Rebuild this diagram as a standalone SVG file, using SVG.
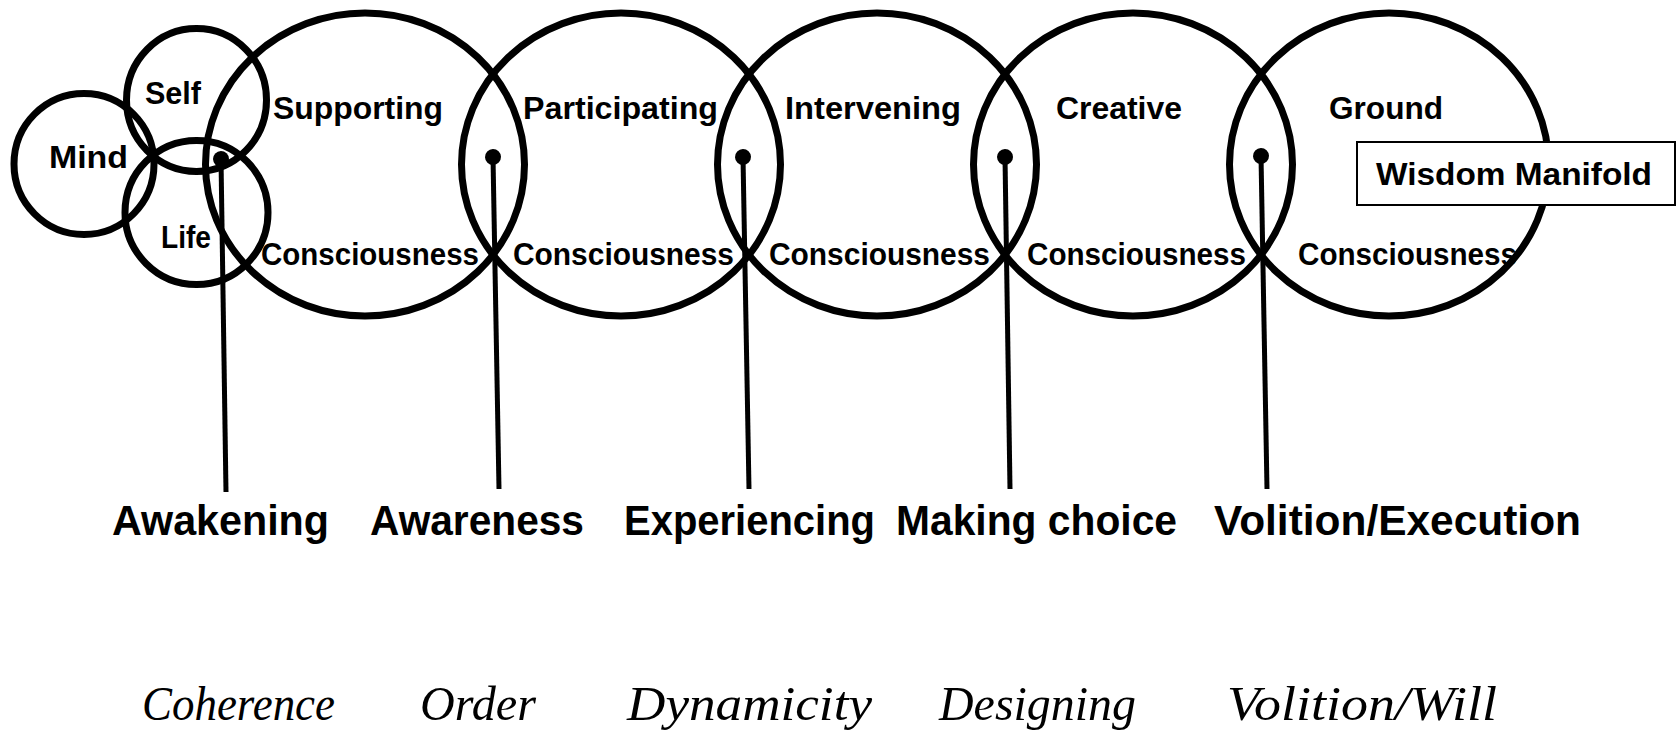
<svg xmlns="http://www.w3.org/2000/svg" width="1677" height="742" viewBox="0 0 1677 742">
  <style>
    .ring { fill: none; stroke: #000; stroke-width: 7; }
    .lbl { font-family: "Liberation Sans", Arial, sans-serif; font-weight: bold; font-size: 31px; fill: #000; }
    .big { font-family: "Liberation Sans", Arial, sans-serif; font-weight: bold; font-size: 42px; fill: #000; }
    .it { font-family: "Liberation Serif", "Times New Roman", serif; font-style: italic; font-size: 49px; fill: #000; }
    .conn { stroke: #000; stroke-width: 5; fill: none; marker-start: url(#dot); }
    .box { fill: #fff; stroke: #000; stroke-width: 2; }
  </style>
  <defs>
    <marker id="dot" viewBox="0 0 18 18" refX="9" refY="9" markerWidth="18" markerHeight="18" markerUnits="userSpaceOnUse" orient="auto">
      <circle cx="9" cy="9" r="8" fill="#000"/>
    </marker>
  </defs>
  <rect width="1677" height="742" fill="#fff"/>

  <!-- labels inside circles -->
  <g id="labels-top">
    <text class="lbl" x="145" y="104" textLength="56" lengthAdjust="spacingAndGlyphs">Self</text>
    <text class="lbl" x="49" y="168" textLength="79" lengthAdjust="spacingAndGlyphs">Mind</text>
    <text class="lbl" x="161" y="248" textLength="50" lengthAdjust="spacingAndGlyphs">Life</text>
    <text class="lbl" x="273" y="119" textLength="170" lengthAdjust="spacingAndGlyphs">Supporting</text>
    <text class="lbl" x="261" y="265" textLength="218" lengthAdjust="spacingAndGlyphs">Consciousness</text>
    <text class="lbl" x="523" y="119" textLength="195" lengthAdjust="spacingAndGlyphs">Participating</text>
    <text class="lbl" x="513" y="265" textLength="221" lengthAdjust="spacingAndGlyphs">Consciousness</text>
    <text class="lbl" x="785" y="119" textLength="176" lengthAdjust="spacingAndGlyphs">Intervening</text>
    <text class="lbl" x="769" y="265" textLength="221" lengthAdjust="spacingAndGlyphs">Consciousness</text>
    <text class="lbl" x="1056" y="119" textLength="126" lengthAdjust="spacingAndGlyphs">Creative</text>
    <text class="lbl" x="1027" y="265" textLength="219" lengthAdjust="spacingAndGlyphs">Consciousness</text>
    <text class="lbl" x="1329" y="119" textLength="114" lengthAdjust="spacingAndGlyphs">Ground</text>
    <text class="lbl" x="1298" y="265" textLength="219" lengthAdjust="spacingAndGlyphs">Consciousness</text>
  </g>

  <g id="node-mind"><ellipse class="ring" cx="84" cy="164" rx="70" ry="70.5"/></g>
  <g id="node-self"><ellipse class="ring" cx="196.5" cy="100" rx="70" ry="71.5"/></g>
  <g id="node-life"><ellipse class="ring" cx="196.5" cy="212.5" rx="71.5" ry="72"/></g>
  <g id="node-supporting"><ellipse class="ring" cx="365" cy="164.5" rx="159.5" ry="151.5"/></g>
  <g id="node-participating"><ellipse class="ring" cx="621" cy="164.5" rx="159.5" ry="151.5"/></g>
  <g id="node-intervening"><ellipse class="ring" cx="877" cy="164.5" rx="159.5" ry="151.5"/></g>
  <g id="node-creative"><ellipse class="ring" cx="1133" cy="164.5" rx="159.5" ry="151.5"/></g>
  <g id="node-ground"><ellipse class="ring" cx="1389" cy="164.5" rx="159.5" ry="151.5"/></g>

  <g id="connectors">
    <line class="conn" x1="221" y1="159" x2="226" y2="492"/>
    <line class="conn" x1="493" y1="157" x2="499" y2="489"/>
    <line class="conn" x1="743" y1="157" x2="749" y2="489"/>
    <line class="conn" x1="1005" y1="157" x2="1010" y2="489"/>
    <line class="conn" x1="1261" y1="156" x2="1267" y2="489"/>
  </g>

  <g id="node-wisdom">
    <rect class="box" x="1357" y="142" width="318" height="63"/>
    <text class="lbl" x="1376" y="185" textLength="276" lengthAdjust="spacingAndGlyphs">Wisdom Manifold</text>
  </g>

  <g id="node-awakening"><text class="big" x="112" y="535" textLength="217" lengthAdjust="spacingAndGlyphs">Awakening</text></g>
  <g id="node-awareness"><text class="big" x="370" y="535" textLength="214" lengthAdjust="spacingAndGlyphs">Awareness</text></g>
  <g id="node-experiencing"><text class="big" x="624" y="535" textLength="251" lengthAdjust="spacingAndGlyphs">Experiencing</text></g>
  <g id="node-making-choice"><text class="big" x="896" y="535" textLength="281" lengthAdjust="spacingAndGlyphs">Making choice</text></g>
  <g id="node-volition-execution"><text class="big" x="1214" y="535" textLength="367" lengthAdjust="spacingAndGlyphs">Volition/Execution</text></g>

  <g id="node-coherence"><text class="it" x="142" y="720" textLength="193" lengthAdjust="spacingAndGlyphs">Coherence</text></g>
  <g id="node-order"><text class="it" x="420" y="720" textLength="116" lengthAdjust="spacingAndGlyphs">Order</text></g>
  <g id="node-dynamicity"><text class="it" x="627" y="720" textLength="245" lengthAdjust="spacingAndGlyphs">Dynamicity</text></g>
  <g id="node-designing"><text class="it" x="939" y="720" textLength="197" lengthAdjust="spacingAndGlyphs">Designing</text></g>
  <g id="node-volition-will"><text class="it" x="1227" y="720" textLength="270" lengthAdjust="spacingAndGlyphs">Volition/Will</text></g>
</svg>
